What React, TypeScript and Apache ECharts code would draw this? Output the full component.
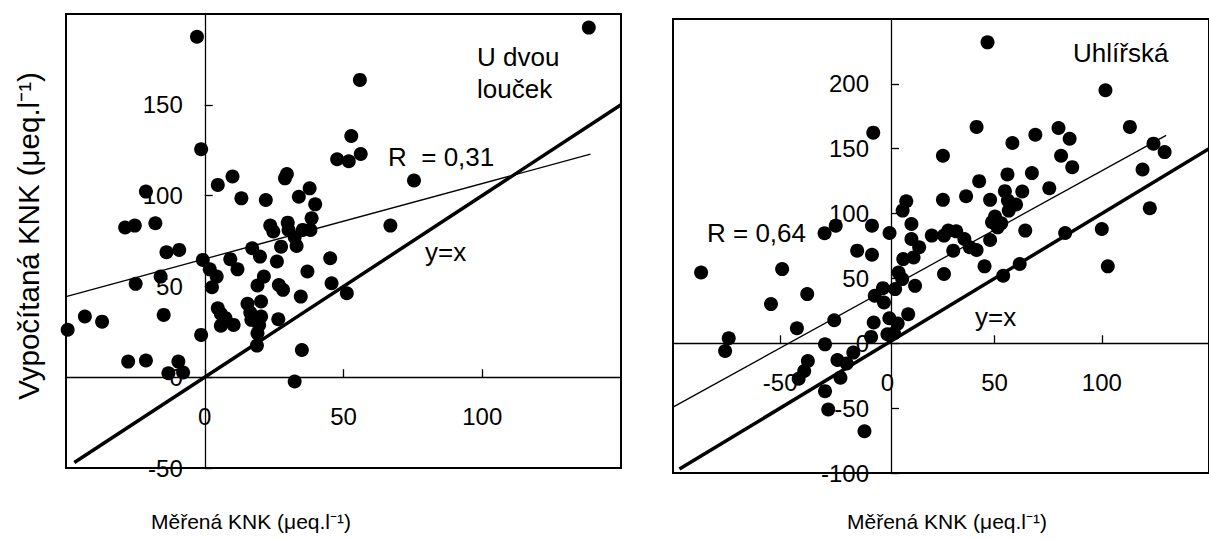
import React, { useEffect, useRef } from "react";
import * as echarts from "echarts";

// Measured vs. computed ANC, two catchments
const dvouLoucekPoints: number[][] = [
  [-2.8, 187.5], [138.4, 192.5], [55.9, 163.7], [52.8, 132.8], [56.2, 122.9],
  [47.7, 120], [51.9, 118.9], [-1.3, 125.5], [75.4, 108.3], [29.6, 111.9],
  [28.9, 109.5], [4.7, 105.9], [10, 110.5], [-21.2, 102.2], [13.2, 98.5],
  [22, 97.6], [33.9, 99.4], [37.8, 104], [39.8, 95.2], [38.5, 87.5],
  [23.6, 83.5], [24.7, 80.2], [29.9, 85.1], [30.2, 81.1], [35.3, 81.1],
  [38.1, 81.1], [32.4, 77.1], [33.1, 72.3], [27.5, 71.9], [17.1, 71],
  [19.9, 66.4], [26, 63.7], [9.2, 65], [11.8, 59.4], [-0.7, 64.6],
  [1.8, 59.4], [4.3, 55.4], [2.6, 49.5], [21.3, 55.4], [19, 50.5],
  [26.7, 50.8], [28.2, 48.1], [37, 58.2], [45.2, 65.5], [45.7, 51.7],
  [51.2, 46.2], [66.9, 83.5], [34.6, 44.4], [15.4, 40.4], [20.3, 41.7],
  [4.7, 38], [5.8, 34.9], [7.5, 32.5], [10.4, 28.8], [5.8, 28.4],
  [16.4, 35.6], [16.8, 31.6], [20.3, 33.4], [19.6, 28.8], [19, 24.2],
  [18.8, 17.4], [26.5, 31.9], [35, 15], [32.4, -2.4], [-1.3, 23.3],
  [-28.7, 82.4], [-25.2, 83.5], [-17.8, 84.8], [-13.8, 68.8], [-9.2, 70.1],
  [-15.9, 55.4], [-24.9, 51.4], [-14.8, 34.3], [-49.4, 26.1], [-43.2, 33.4],
  [-37, 30.6], [-27.6, 8.6], [-21.2, 9.2], [-9.5, 8.6], [-13.1, 2.2],
  [-7.8, 2.6],
];

const uhlirskaPoints: number[][] = [
  [46.7, 232], [101.7, 195.1], [-6.6, 162.4], [41.6, 166.8], [79.8, 166],
  [113.1, 166.8], [69, 160.8], [85, 157.7], [58.3, 154.4], [124.1, 153.9],
  [129.3, 147.4], [25.9, 144.6], [81, 144.6], [86.2, 135.8], [119, 134],
  [67.4, 131.2], [56, 130.2], [42.8, 125], [75.5, 119.6], [62.9, 117],
  [54.8, 117.3], [36.7, 113.4], [25.9, 110.6], [47.9, 110.6], [56.2, 110.1],
  [60, 107], [56.6, 102.3], [122.4, 104.1], [8.8, 109.5], [7.1, 102.3],
  [50.2, 97.7], [48.8, 93.3], [53.1, 92.5], [51.4, 89.4], [11.2, 92],
  [-7.2, 90.7], [-24.1, 90.7], [-29.3, 84.8], [1, 85], [20.7, 83],
  [26.4, 83], [28.4, 86.9], [32.1, 86.3], [35.9, 80.4], [38.4, 74],
  [41.6, 71.9], [47.9, 79.6], [64.3, 86.9], [100, 88.1], [82.9, 85],
  [11.2, 80.4], [14.8, 74], [12.2, 66.2], [7.4, 64.9], [30.7, 71.4],
  [-14.1, 71.4], [-7.2, 68.3], [61.7, 61.1], [45.3, 59.3], [102.8, 59.3],
  [5.2, 54.6], [6.9, 49.5], [26.4, 53.4], [54, 52.1], [-86.9, 54.6],
  [-49.1, 57.2], [12.9, 44.3], [3.6, 41.8], [-2.1, 42.5], [-5.9, 36.6],
  [-1.6, 31.4], [-37.4, 37.9], [-54.3, 30.2], [9.7, 22.4], [0.9, 19.3],
  [4.8, 15.2], [-24.8, 17.8], [-6.4, 16], [-42.2, 11.6], [-7.6, 4.9],
  [0, 7], [3.1, 7.7], [-74, 3.9], [-75.7, -5.9], [-29.1, -0.8],
  [-15.9, -7.2], [-23.3, -12.9], [-37.1, -13.7], [-19, -15.5], [-38.8, -21.4],
  [-41.4, -27.3], [-21.9, -26.5], [-29.1, -36.9], [-27.6, -51], [-10.7, -67.8],
];

// Regression lines and 1:1 lines (end points)
const dvouLoucekFit: number[][] = [[-50, 44.4], [139, 122.8]];
const dvouLoucekIdentity: number[][] = [[-47, -47], [150, 150]];
const uhlirskaFit: number[][] = [[-100, -49.2], [130, 160.3]];
const uhlirskaIdentity: number[][] = [[-97, -97], [150, 150]];

// Axis ranges
const leftX = { min: -50, max: 150 };
const leftY = { min: -50, max: 200 };
const rightX = { min: -100, max: 150 };
const rightY = { min: -100, max: 250 };

const axisTitleX = "Měřená KNK (μeq.l⁻¹)";
const axisTitleY = "Vypočítaná KNK (μeq.l⁻¹)";

const FONT = "'Liberation Sans', Arial, sans-serif";

// plot boxes in pixels
const boxL = { left: 66, top: 14, width: 555, height: 454 };
const boxR = { left: 673, top: 19, width: 545, height: 454 };

// Distance (px) from the grid's left / bottom edge to the value 0 of a range
const zeroOffset = (range: { min: number; max: number }, size: number) =>
  ((0 - range.min) / (range.max - range.min)) * size;

function valueAxis(
  gridIndex: number,
  range: { min: number; max: number },
  showMin: boolean,
  isX: boolean,
  offset: number
) {
  return {
    type: "value" as const,
    gridIndex,
    min: range.min,
    max: range.max,
    interval: 50,
    position: isX ? "bottom" : "left",
    offset: -offset,
    axisLine: { show: true, onZero: false, lineStyle: { color: "#000", width: 1.3 } },
    axisTick: { show: true, inside: true, length: 8, lineStyle: { color: "#000", width: 1.3 } },
    axisLabel: {
      show: true,
      color: "#000",
      fontSize: 24,
      fontFamily: FONT,
      margin: isX ? 27 : 22,
      showMinLabel: showMin,
      showMaxLabel: false,
      hideOverlap: false,
    },
    splitLine: { show: false },
  };
}

function scatter(idx: number, data: number[][]) {
  return {
    type: "scatter" as const,
    xAxisIndex: idx,
    yAxisIndex: idx,
    data,
    symbol: "circle",
    symbolSize: 14,
    clip: false,
    itemStyle: { color: "#000", opacity: 1 },
    z: 3,
  };
}

function segment(idx: number, data: number[][], width: number) {
  return {
    type: "line" as const,
    xAxisIndex: idx,
    yAxisIndex: idx,
    data,
    showSymbol: false,
    symbol: "none",
    lineStyle: { color: "#000", width },
    z: 2,
  };
}

function label(text: string, x: number, y: number, fontSize = 26, align = "left") {
  return {
    type: "text",
    x,
    y,
    style: {
      text,
      fill: "#000",
      fontSize,
      fontFamily: FONT,
      align,
      verticalAlign: "middle",
    },
  };
}

export default function App() {
  const ref = useRef<HTMLDivElement>(null);

  useEffect(() => {
    if (!ref.current) return;
    const chart = echarts.init(ref.current, undefined, { renderer: "svg" });
    chart.setOption({
      animation: false,
      backgroundColor: "#fff",
      grid: [
        { ...boxL, show: true, borderColor: "#000", borderWidth: 2, backgroundColor: "transparent" },
        { ...boxR, show: true, borderColor: "#000", borderWidth: 2, backgroundColor: "transparent" },
      ],
      xAxis: [
        valueAxis(0, leftX, false, true, zeroOffset(leftY, boxL.height)),
        valueAxis(1, rightX, false, true, zeroOffset(rightY, boxR.height)),
      ],
      yAxis: [
        valueAxis(0, leftY, true, false, zeroOffset(leftX, boxL.width)),
        valueAxis(1, rightY, true, false, zeroOffset(rightX, boxR.width)),
      ],
      series: [
        segment(0, dvouLoucekFit, 1.3),
        segment(0, dvouLoucekIdentity, 3.5),
        scatter(0, dvouLoucekPoints),
        segment(1, uhlirskaFit, 1.3),
        segment(1, uhlirskaIdentity, 3.5),
        scatter(1, uhlirskaPoints),
      ],
      graphic: [
        {
          type: "text",
          x: 28,
          y: 236,
          rotation: Math.PI / 2,
          style: {
            text: axisTitleY,
            fill: "#000",
            fontSize: 29.5,
            fontFamily: FONT,
            align: "center",
            verticalAlign: "middle",
          },
        },
        label(axisTitleX, 251, 521, 21, "center"),
        label(axisTitleX, 947, 521, 21, "center"),
        {
          type: "text",
          x: 477,
          y: 41,
          style: {
            text: "U dvou\nlouček",
            fill: "#000",
            fontSize: 26,
            lineHeight: 32,
            fontFamily: FONT,
            align: "left",
            verticalAlign: "top",
          },
        },
        label("R  = 0,31", 388, 157),
        label("y=x", 425, 252),
        label("Uhlířská", 1073, 53),
        label("R = 0,64", 707, 233),
        label("y=x", 975, 317),
      ],
    });
    return () => chart.dispose();
  }, []);

  return (
    <div
      ref={ref}
      style={{ position: "fixed", left: 0, top: 0, width: 1209, height: 540, background: "#fff" }}
    />
  );
}
